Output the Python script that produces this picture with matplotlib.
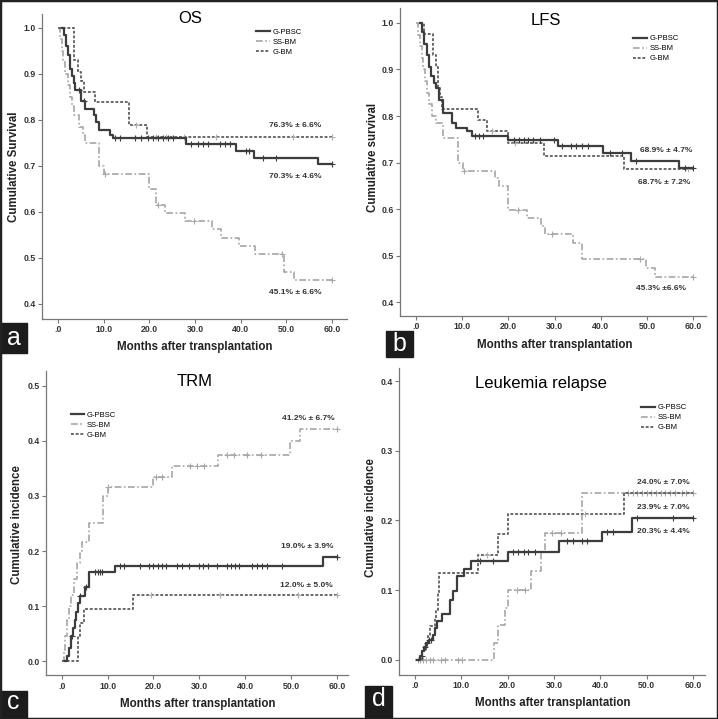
import numpy as np
import matplotlib
matplotlib.use("Agg")
import matplotlib.pyplot as plt
from matplotlib.patches import Rectangle

plt.rcParams['font.family'] = ['Liberation Sans', 'DejaVu Sans']

groups = ["G-PBSC", "SS-BM", "G-BM"]
xticks = [0, 10, 20, 30, 40, 50, 60]
xlabels = [".0", "10.0", "20.0", "30.0", "40.0", "50.0", "60.0"]

# ---- OS
os_pbsc_t = [0.8, 1.3, 1.8, 2.2, 2.6, 3.0, 3.4, 3.8, 5.0, 6.0, 7.8, 8.4, 9.0, 11.5, 12.0, 28.0, 39.0, 43.0, 57.0, 60.0]
os_pbsc_s = [1.0, 0.985, 0.96, 0.94, 0.91, 0.895, 0.88, 0.865, 0.84, 0.823, 0.81, 0.795, 0.778, 0.768, 0.76, 0.748, 0.733, 0.718, 0.703, 0.703]
os_pbsc_c = [4.7, 5.8, 12.4, 13.6, 16.8, 18.2, 19.7, 20.8, 21.9, 23, 24, 25.2, 29.2, 30.7, 31.7, 32.8, 35.4, 36.5, 37.6, 41.1, 41.8, 44.9, 47.7, 60]
os_ssbm_t = [0, 0.4, 0.8, 1.2, 1.6, 2.1, 2.6, 3.1, 3.6, 4.5, 5.5, 6.0, 9.0, 10.0, 20.0, 21.5, 23.5, 27.8, 33.8, 35.7, 39.7, 43.2, 49.6, 51.8, 60]
os_ssbm_s = [1.0, 0.975, 0.95, 0.925, 0.9, 0.875, 0.85, 0.83, 0.81, 0.785, 0.768, 0.75, 0.70, 0.682, 0.65, 0.615, 0.597, 0.58, 0.562, 0.543, 0.525, 0.508, 0.47, 0.451, 0.451]
os_ssbm_c = [10.2, 22.0, 29.7, 49.0, 60]
os_gbm_t = [0, 3.4, 4.4, 5.0, 5.6, 8.0, 15.5, 19.5, 60]
os_gbm_s = [1.0, 0.93, 0.905, 0.884, 0.861, 0.838, 0.789, 0.763, 0.763]
os_gbm_c = [17.0, 21.5, 23.7, 27.7, 34.7, 51.5, 60]

# ---- LFS
lfs_pbsc_t = [0.8, 1.3, 1.8, 2.3, 2.8, 3.3, 3.8, 4.4, 5.0, 5.9, 7.7, 8.6, 11.0, 12.0, 20.0, 30.7, 40.5, 46.6, 57.0, 60]
lfs_pbsc_s = [1.0, 0.98, 0.955, 0.93, 0.905, 0.885, 0.87, 0.86, 0.835, 0.806, 0.785, 0.775, 0.768, 0.758, 0.748, 0.736, 0.72, 0.704, 0.689, 0.689]
lfs_pbsc_c = [12.8, 13.6, 14.5, 21.3, 22.2, 23.3, 24.2, 25.4, 26.9, 29.9, 31.6, 33.6, 34.7, 35.9, 37.2, 42.1, 44.5, 47.6, 58.2, 60]
lfs_ssbm_t = [0, 0.4, 0.8, 1.2, 1.5, 2.0, 2.3, 2.8, 3.4, 4.3, 5.8, 9.0, 10.1, 17.0, 18.0, 20.0, 24.0, 27.0, 28.0, 34.0, 36.0, 49.7, 51.8, 60]
lfs_ssbm_s = [1.0, 0.975, 0.95, 0.925, 0.9, 0.875, 0.85, 0.825, 0.8, 0.785, 0.752, 0.70, 0.683, 0.667, 0.649, 0.598, 0.58, 0.563, 0.546, 0.527, 0.493, 0.473, 0.455, 0.455]
lfs_ssbm_c = [10.3, 22.0, 29.5, 48.5, 60]
lfs_gbm_t = [0.8, 1.7, 3.7, 4.2, 4.7, 5.1, 5.6, 13.5, 15.4, 20.0, 27.8, 45.0, 60]
lfs_gbm_s = [1.0, 0.977, 0.93, 0.905, 0.86, 0.84, 0.815, 0.792, 0.767, 0.742, 0.715, 0.687, 0.687]
lfs_gbm_c = [16.5, 21.5, 59.0]

# ---- TRM
trm_pbsc_t = [0.8, 1.2, 1.6, 2.0, 2.4, 2.8, 3.1, 3.5, 3.9, 5.0, 6.0, 11.6, 57.0, 60]
trm_pbsc_s = [0.0, 0.01, 0.025, 0.045, 0.06, 0.075, 0.09, 0.105, 0.118, 0.135, 0.162, 0.172, 0.19, 0.19]
trm_pbsc_c = [2.2, 4.0, 5.2, 7.3, 7.8, 8.3, 8.8, 12.7, 13.6, 17.1, 19.1, 20, 20.9, 21.9, 22.8, 25.1, 26.2, 27.8, 30.0, 30.9, 31.8, 33.8, 36, 36.9, 37.8, 38.7, 41.5, 42.5, 43.6, 44.7, 48, 60]
trm_ssbm_t = [0, 0.4, 0.8, 1.2, 1.6, 2.0, 2.6, 3.3, 4.0, 4.5, 6.0, 9.0, 10.0, 20.0, 24.0, 34.0, 49.7, 52.0, 60]
trm_ssbm_s = [0.0, 0.02, 0.045, 0.075, 0.1, 0.12, 0.15, 0.178, 0.2, 0.217, 0.25, 0.3, 0.317, 0.334, 0.354, 0.374, 0.399, 0.422, 0.422]
trm_ssbm_c = [10.0, 20.5, 21.8, 28.0, 29.5, 31.0, 36.0, 37.5, 40.5, 43.5, 60]
trm_gbm_t = [0, 3.5, 4.0, 4.8, 15.5, 60]
trm_gbm_s = [0.0, 0.045, 0.07, 0.094, 0.12, 0.12]
trm_gbm_c = [19.5, 34.5, 51.5, 60]

# ---- Leukemia relapse
rel_pbsc_t = [0.5, 1.2, 1.6, 2.0, 2.5, 3.0, 4.0, 4.4, 4.7, 5.8, 7.6, 8.3, 9.0, 10.7, 12.1, 20.0, 31.0, 40.4, 46.9, 60]
rel_pbsc_s = [0.0, 0.005, 0.012, 0.018, 0.024, 0.028, 0.036, 0.045, 0.055, 0.065, 0.086, 0.098, 0.12, 0.13, 0.142, 0.155, 0.17, 0.184, 0.203, 0.203]
rel_pbsc_c = [1.5, 2.2, 2.6, 3.0, 3.4, 14.0, 16.9, 21.2, 22.3, 23.5, 24.5, 25.9, 32.8, 34.1, 36.1, 37.2, 41.5, 42.8, 47.9, 55.7, 60]
rel_ssbm_t = [0, 17.0, 18.0, 19.4, 20.0, 25.0, 27.2, 28.0, 36.0, 60]
rel_ssbm_s = [0.0, 0.024, 0.05, 0.074, 0.1, 0.127, 0.155, 0.182, 0.24, 0.24]
rel_ssbm_c = [0.6, 1.1, 1.8, 2.5, 3.2, 3.9, 5.7, 6.6, 9.3, 10.2, 22.1, 23.7, 29.5, 31.5,
              46, 47, 48, 49, 50, 51, 52, 53, 54, 55, 56, 57.5, 58.5, 60]
rel_gbm_t = [0.5, 1.5, 2.5, 2.9, 3.2, 4.3, 4.6, 4.9, 5.3, 13.6, 18.0, 20.0, 45.0, 60]
rel_gbm_s = [0.0, 0.012, 0.024, 0.036, 0.048, 0.06, 0.072, 0.096, 0.124, 0.151, 0.18, 0.209, 0.24, 0.24]
rel_gbm_c = [15.5, 36.8]

dark = '#3d3d3d'
light = '#a5a5a5'
mid = '#5e5e5e'
styles = [dict(color=dark, ls='-', lw=1.6),
          dict(color=light, ls=(0, (4, 1.5, 1, 1.5)), lw=1.2),
          dict(color=mid, ls=(0, (1.6, 1.0)), lw=1.3)]
cross_colors = [dark, '#a8a8a8', '#b0b0b0']


def km(ax, t, s, cens, k):
    ax.plot(t, s, drawstyle='steps-post', label=groups[k], **styles[k])
    t = np.array(t)
    s = np.array(s)
    idx = np.searchsorted(t, cens, side='right') - 1
    ax.plot(cens, s[idx], '+', color=cross_colors[k], ms=5, mew=0.8, ls='none')


fig = plt.figure(figsize=(7.18, 7.19), dpi=100)
W, H = 718, 719


def px_axes(l, r, b, t):
    return fig.add_axes([l / W, 1 - b / H, (r - l) / W, (b - t) / H])


def style_axes(ax, xlim, ylim, yticks, ylabels):
    ax.set_xlim(xlim)
    ax.set_ylim(ylim)
    for sp in ['top', 'right']:
        ax.spines[sp].set_visible(False)
    for sp in ['left', 'bottom']:
        ax.spines[sp].set_color('#777777')
        ax.spines[sp].set_linewidth(0.9)
    ax.set_xticks(xticks)
    ax.set_xticklabels(xlabels)
    ax.set_yticks(yticks)
    ax.set_yticklabels(ylabels)
    ax.tick_params(length=3, width=0.8, color='#777777', labelsize=6.3, pad=1.5,
                   labelcolor='#333333')
    for lab in ax.get_xticklabels() + ax.get_yticklabels():
        lab.set_fontweight('bold')


def annotate(ax, x, y, txt):
    ax.text(x, y, txt, ha='center', va='center', fontsize=6, fontweight='bold', color='#333333')


def panel_letter(x0, y0, x1, y1, letter, dy=0.0):
    fig.patches.append(Rectangle((x0 / W, 1 - y1 / H), (x1 - x0) / W, (y1 - y0) / H,
                                 transform=fig.transFigure, color='#1c1c1c', zorder=5))
    fig.text((x0 + x1) / 2 / W, 1 - ((y0 + y1) / 2 + dy) / H, letter, color='white',
             fontsize=18, ha='center', va='center', zorder=6)


def labels(xc, yc, xl_x, yl_y, ylabel):
    fig.text(xc / W, 1 - yc / H, "Months after transplantation", ha='center', va='center',
             fontsize=8.3, fontweight='bold', color='#222222')
    fig.text(xl_x / W, 1 - yl_y / H, ylabel, ha='center', va='center', rotation=90,
             fontsize=8.3, fontweight='bold', color='#222222')


order = [2, 0, 1]

# ---- panel a
ax = px_axes(42, 347, 319, 14)
km(ax, os_ssbm_t, os_ssbm_s, os_ssbm_c, 1)
km(ax, os_gbm_t, os_gbm_s, os_gbm_c, 2)
km(ax, os_pbsc_t, os_pbsc_s, os_pbsc_c, 0)
style_axes(ax, (-3.5, 63.3), (0.367, 1.03), [0.4, 0.5, 0.6, 0.7, 0.8, 0.9, 1.0],
           ["0.4", "0.5", "0.6", "0.7", "0.8", "0.9", "1.0"])
h, l = ax.get_legend_handles_labels()
ax.legend([h[i] for i in order], [l[i] for i in order], loc='upper left', bbox_to_anchor=(0.68, 0.975),
          frameon=False, fontsize=5.5, handlelength=1.8, labelspacing=0.35, handletextpad=0.3)
ax.text(0.485, 0.985, "OS", transform=ax.transAxes, ha='center', va='center', fontsize=12)
annotate(ax, 52, 0.788, "76.3% ± 6.6%")
annotate(ax, 52, 0.676, "70.3% ± 4.6%")
annotate(ax, 52, 0.425, "45.1% ± 6.6%")
labels(195, 347, 14, 167, "Cumulative Survival")
panel_letter(0, 323, 27, 353, "a")

# ---- panel b
ax = px_axes(400, 706, 316, 8)
km(ax, lfs_ssbm_t, lfs_ssbm_s, lfs_ssbm_c, 1)
km(ax, lfs_gbm_t, lfs_gbm_s, lfs_gbm_c, 2)
km(ax, lfs_pbsc_t, lfs_pbsc_s, lfs_pbsc_c, 0)
style_axes(ax, (-3.5, 62.8), (0.3706, 1.032), [0.4, 0.5, 0.6, 0.7, 0.8, 0.9, 1.0],
           ["0.4", "0.5", "0.6", "0.7", "0.8", "0.9", "1.0"])
h, l = ax.get_legend_handles_labels()
ax.legend([h[i] for i in order], [l[i] for i in order], loc='upper left', bbox_to_anchor=(0.74, 0.935),
          frameon=False, fontsize=5.5, handlelength=1.8, labelspacing=0.35, handletextpad=0.3)
ax.text(0.477, 0.961, "LFS", transform=ax.transAxes, ha='center', va='center', fontsize=12)
annotate(ax, 54.2, 0.726, "68.9% ± 4.7%")
annotate(ax, 53.7, 0.657, "68.7% ± 7.2%")
annotate(ax, 53.0, 0.430, "45.3% ±6.6%")
labels(555, 345, 373, 157, "Cumulative survival")
panel_letter(386, 331, 413, 357, "b")

# ---- panel c
ax = px_axes(45.7, 348.3, 675.3, 371.3)
km(ax, trm_ssbm_t, trm_ssbm_s, trm_ssbm_c, 1)
km(ax, trm_gbm_t, trm_gbm_s, trm_gbm_c, 2)
km(ax, trm_pbsc_t, trm_pbsc_s, trm_pbsc_c, 0)
style_axes(ax, (-3.5, 62.5), (-0.0254, 0.526), [0.0, 0.1, 0.2, 0.3, 0.4, 0.5],
           ["0.0", "0.1", "0.2", "0.3", "0.4", "0.5"])
h, l = ax.get_legend_handles_labels()
ax.legend([h[i] for i in order], [l[i] for i in order], loc='upper left', bbox_to_anchor=(0.06, 0.89),
          frameon=False, fontsize=5.5, handlelength=1.8, labelspacing=0.35, handletextpad=0.3)
ax.text(0.493, 0.968, "TRM", transform=ax.transAxes, ha='center', va='center', fontsize=12)
annotate(ax, 53.8, 0.441, "41.2% ± 6.7%")
annotate(ax, 53.5, 0.209, "19.0% ± 3.9%")
annotate(ax, 53.3, 0.137, "12.0% ± 5.0%")
labels(198, 704, 17, 525, "Cumulative incidence")
panel_letter(0, 691, 27, 719, "c", dy=-3)

# ---- panel d
ax = px_axes(399, 704.7, 675, 368)
km(ax, rel_ssbm_t, rel_ssbm_s, rel_ssbm_c, 1)
km(ax, rel_gbm_t, rel_gbm_s, rel_gbm_c, 2)
km(ax, rel_pbsc_t, rel_pbsc_s, rel_pbsc_c, 0)
style_axes(ax, (-3.4, 62.5), (-0.022, 0.419), [0.0, 0.1, 0.2, 0.3, 0.4],
           ["0.0", "0.1", "0.2", "0.3", "0.4"])
h, l = ax.get_legend_handles_labels()
ax.legend([h[i] for i in order], [l[i] for i in order], loc='upper left', bbox_to_anchor=(0.77, 0.905),
          frameon=False, fontsize=5.5, handlelength=1.8, labelspacing=0.35, handletextpad=0.3)
ax.text(0.465, 0.948, "Leukemia relapse", transform=ax.transAxes, ha='center', va='center', fontsize=12)
annotate(ax, 53.5, 0.255, "24.0% ± 7.0%")
annotate(ax, 53.5, 0.219, "23.9% ± 7.0%")
annotate(ax, 53.5, 0.184, "20.3% ± 4.4%")
labels(553, 703, 371, 518, "Cumulative incidence")
panel_letter(365, 686, 392, 717, "d", dy=-2)

fig.patches.append(Rectangle((0, 0), 1, 1, transform=fig.transFigure, fill=False,
                             edgecolor='#222222', lw=2.5, zorder=10))

fig.savefig("out.png", dpi=100)
